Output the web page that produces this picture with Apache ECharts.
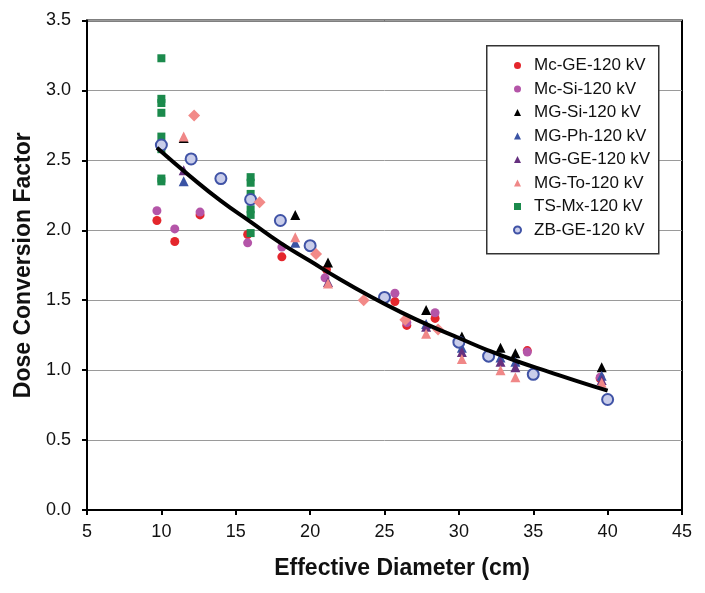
<!DOCTYPE html>
<html>
<head>
<meta charset="utf-8">
<script src="https://cdn.jsdelivr.net/npm/echarts@6/dist/echarts.min.js"></script>
<style>
  html, body { margin: 0; padding: 0; background: #fff; }
  #chart { width: 705px; height: 593px; }
</style>
</head>
<body>
<div id="chart"></div>
<script>
// values: [effective diameter, factor]
const mcGE = [[9.7, 2.07], [10.9, 1.92], [12.6, 2.11], [15.8, 1.97], [18.1, 1.81], [21.1, 1.72],
  [25.7, 1.49], [26.5, 1.32], [28.4, 1.37], [34.6, 1.14], [39.5, 0.94]];
const mcSi = [[9.7, 2.14], [10.9, 2.01], [12.6, 2.13], [15.8, 1.91], [18.1, 1.88], [21.0, 1.66],
  [25.7, 1.55], [26.5, 1.34], [28.4, 1.41], [34.6, 1.13], [39.5, 0.95]];
const mgSi = [[11.5, 2.66], [19.0, 2.11], [21.2, 1.77], [27.8, 1.43], [30.2, 1.24], [32.8, 1.16],
  [33.8, 1.12], [39.6, 1.02]];
const mgPh = [[11.5, 2.35], [19.0, 1.91], [27.8, 1.33], [30.2, 1.16], [32.8, 1.09], [33.8, 1.06],
  [39.6, 0.96]];
const mgGE = [[11.5, 2.43], [21.2, 1.63], [27.8, 1.31], [30.2, 1.13], [32.8, 1.06], [33.8, 1.02],
  [39.6, 0.93]];
const mgTo = [[11.5, 2.67], [19.0, 1.95], [21.2, 1.62], [27.8, 1.26], [30.2, 1.08], [32.8, 1.0],
  [33.8, 0.95], [39.6, 0.91]];
const tsMx = [[10, 3.23], [10, 2.94], [10, 2.91], [10, 2.84], [10, 2.67], [10, 2.58], [10, 2.37],
  [10, 2.35], [16, 2.38], [16, 2.34], [16, 2.26], [16, 2.15], [16, 2.11], [16, 1.98]];
const zbGE = [[10, 2.61], [12, 2.51], [14, 2.37], [16, 2.22], [18, 2.07], [20, 1.89], [25, 1.52],
  [30, 1.2], [32, 1.1], [35, 0.97], [40, 0.79]];
// salmon diamonds, not listed in the legend
const extra = [[12.2, 2.82], [16.6, 2.2], [20.4, 1.83], [23.6, 1.5], [26.4, 1.36], [28.6, 1.29]];
// fitted trend curve, read at intervals
const trend = [[9.7, 2.59], [12, 2.38], [14, 2.21], [16, 2.06], [18, 1.91], [20, 1.78], [22, 1.65],
  [24, 1.53], [26, 1.42], [28, 1.32], [30, 1.23], [32, 1.14], [34, 1.06], [36, 0.99], [38, 0.92],
  [40, 0.853]];

const legendNames = ["Mc-GE-120 kV", "Mc-Si-120 kV", "MG-Si-120 kV", "MG-Ph-120 kV",
  "MG-GE-120 kV", "MG-To-120 kV", "TS-Mx-120 kV", "ZB-GE-120 kV"];

const font = "'Liberation Sans', Arial, Helvetica, sans-serif";
const chart = echarts.init(document.getElementById("chart"));

function scatter(name, data, symbol, size, color, extraStyle) {
  return {
    name: name,
    type: "scatter",
    data: data,
    symbol: symbol,
    symbolSize: size,
    itemStyle: Object.assign({ color: color, opacity: 1 }, extraStyle || {}),
    z: 3,
  };
}

chart.setOption({
  animation: false,
  textStyle: { fontFamily: font },
  grid: {
    left: 87,
    right: 23,
    top: 20.5,
    bottom: 83,
    show: true,
    borderColor: "#000",
    borderWidth: 2,
    backgroundColor: "#fff",
  },
  graphic: [
    {
      type: "rect",
      left: 486,
      top: 45,
      shape: { width: 172, height: 208 },
      style: { fill: "#fff", stroke: "#333", lineWidth: 1.5 },
      z: 10,
    },
  ],
  legend: {
    data: legendNames,
    orient: "vertical",
    left: 508,
    top: 52,
    itemWidth: 7,
    itemHeight: 7,
    itemGap: 6.5,
    z: 11,
    textStyle: {
      fontSize: 17,
      color: "#111",
      padding: [0, 0, 0, 8],
      fontFamily: font,
    },
  },
  xAxis: {
    type: "value",
    min: 5,
    max: 45,
    interval: 5,
    name: "Effective Diameter (cm)",
    nameLocation: "middle",
    nameGap: 47,
    nameTextStyle: {
      fontSize: 23,
      fontWeight: "bold",
      color: "#111",
      padding: [0, 0, 0, 35],
    },
    axisLine: { show: true, onZero: false, lineStyle: { color: "#000", width: 2 } },
    axisTick: { show: true, inside: false, length: 5, lineStyle: { color: "#000", width: 2 } },
    axisLabel: { fontSize: 18, color: "#111", margin: 13 },
    splitLine: { show: false },
  },
  yAxis: {
    type: "value",
    min: 0,
    max: 3.5,
    interval: 0.5,
    name: "Dose Conversion Factor",
    nameLocation: "middle",
    nameGap: 46,
    nameTextStyle: { fontSize: 23, fontWeight: "bold", color: "#111" },
    axisLine: { show: true, onZero: false, lineStyle: { color: "#000", width: 2 } },
    axisTick: { show: true, inside: false, length: 5, lineStyle: { color: "#000", width: 2 } },
    axisLabel: {
      fontSize: 18,
      color: "#111",
      margin: 16,
      formatter: (v) => v.toFixed(1),
    },
    splitLine: { show: true, lineStyle: { color: "#9a9a9a", width: 1 } },
  },
  series: [
    scatter("Mc-GE-120 kV", mcGE, "circle", 9, "#e4262c"),
    scatter("Mc-Si-120 kV", mcSi, "circle", 9, "#b455a8"),
    scatter("MG-Si-120 kV", mgSi, "triangle", 10, "#000"),
    scatter("MG-Ph-120 kV", mgPh, "triangle", 10, "#3a53a4"),
    scatter("MG-GE-120 kV", mgGE, "triangle", 10, "#66307f"),
    scatter("MG-To-120 kV", mgTo, "triangle", 10, "#f08787"),
    scatter("TS-Mx-120 kV", tsMx, "rect", [8, 8], "#1b8a4c"),
    scatter("ZB-GE-120 kV", zbGE, "circle", 11, "#c9cdea", { borderColor: "#4053a6", borderWidth: 2 }),
    scatter("extra", extra, "diamond", 12, "#f28a88"),
    {
      name: "trend",
      type: "line",
      data: trend,
      smooth: true,
      showSymbol: false,
      lineStyle: { color: "#000", width: 4 },
      z: 4,
    },
  ],
});
</script>
</body>
</html>
